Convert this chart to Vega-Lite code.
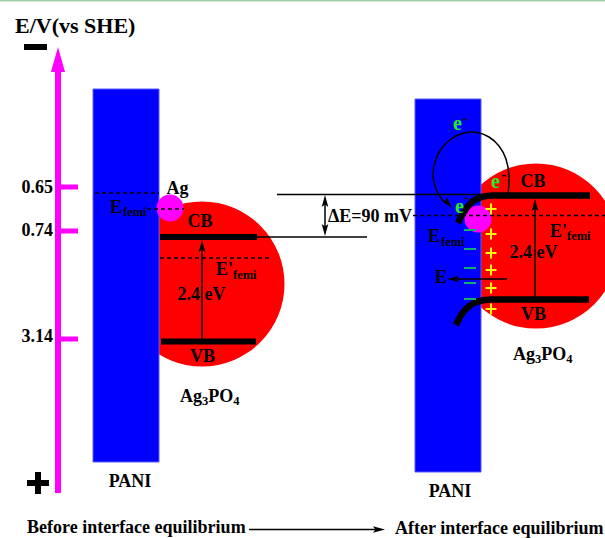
{
  "$schema": "https://vega.github.io/schema/vega-lite/v6.json",
  "width": 605,
  "height": 538,
  "padding": 0,
  "autosize": "none",
  "background": "white",
  "config": {"view": {"stroke": null}},
  "encoding": {
    "x": {"field": "x", "type": "quantitative", "scale": {"domain": [0, 605], "nice": false, "zero": false}, "axis": null},
    "y": {"field": "y", "type": "quantitative", "scale": {"domain": [0, 538], "nice": false, "zero": false, "reverse": true}, "axis": null}
  },
  "layer": [
    {
      "data": {"values": [{"x": 0, "y": 0.75, "x2": 605, "y2": 0.75}]},
      "mark": {"type": "rule", "color": "#9fd0a6", "strokeWidth": 1.5},
      "encoding": {"x2": {"field": "x2"}, "y2": {"field": "y2"}}
    },
    {
      "data": {"values": [{"part": "Ag3PO4 before", "x": 202, "y": 284}, {"part": "Ag3PO4 after", "x": 536, "y": 246}]},
      "mark": {"type": "point", "shape": "circle", "filled": true, "color": "#ff0000", "opacity": 1, "size": 27225, "clip": true},
      "encoding": {}
    },
    {
      "data": {"values": [{"part": "PANI before", "x": 93, "x2": 159, "y": 89, "y2": 462}, {"part": "PANI after", "x": 415, "x2": 481, "y": 99, "y2": 472}]},
      "mark": {"type": "rect", "fill": "#0000ff", "stroke": "#5a5aff", "strokeWidth": 1},
      "encoding": {"x2": {"field": "x2"}, "y2": {"field": "y2"}}
    },
    {
      "data": {"values": [{"part": "Ag before", "x": 170, "y": 208}, {"part": "Ag after", "x": 478, "y": 219}]},
      "mark": {"type": "point", "shape": "circle", "filled": true, "color": "#ff00ff", "opacity": 1, "size": 729},
      "encoding": {}
    },
    {
      "data": {"values": [{"x": 58, "y": 493, "x2": 58, "y2": 70}]},
      "mark": {"type": "rule", "color": "#ff00ff", "strokeWidth": 6},
      "encoding": {"x2": {"field": "x2"}, "y2": {"field": "y2"}}
    },
    {
      "data": {"values": [
        {"level": "0.65", "x": 58, "y": 187, "x2": 78, "y2": 187},
        {"level": "0.74", "x": 58, "y": 231, "x2": 78, "y2": 231},
        {"level": "3.14", "x": 58, "y": 339, "x2": 78, "y2": 339}
      ]},
      "mark": {"type": "rule", "color": "#ff00ff", "strokeWidth": 5},
      "encoding": {"x2": {"field": "x2"}, "y2": {"field": "y2"}}
    },
    {
      "data": {"values": [{"x": 58, "y": 59.5}]},
      "mark": {"type": "point", "shape": "M0,-1L0.56,1L-0.56,1Z", "filled": true, "color": "#ff00ff", "opacity": 1, "size": 625},
      "encoding": {}
    },
    {
      "data": {"values": [
        {"item": "CB before", "x": 160, "y": 237, "x2": 257, "y2": 237},
        {"item": "VB before", "x": 161, "y": 341.5, "x2": 256, "y2": 341.5},
        {"item": "minus", "x": 24, "y": 47, "x2": 47, "y2": 47},
        {"item": "plus h", "x": 27, "y": 483, "x2": 49, "y2": 483},
        {"item": "plus v", "x": 38, "y": 472, "x2": 38, "y2": 494}
      ]},
      "mark": {"type": "rule", "color": "#000000", "strokeWidth": 6},
      "encoding": {"x2": {"field": "x2"}, "y2": {"field": "y2"}}
    },
    {
      "data": {"values": [
        {"band": "CB", "i": 0, "x": 458, "y": 223},
        {"band": "CB", "i": 1, "x": 462, "y": 215},
        {"band": "CB", "i": 2, "x": 467, "y": 207.5},
        {"band": "CB", "i": 3, "x": 473, "y": 201},
        {"band": "CB", "i": 4, "x": 482, "y": 197},
        {"band": "CB", "i": 5, "x": 492, "y": 195.5},
        {"band": "CB", "i": 6, "x": 590, "y": 195.5},
        {"band": "VB", "i": 0, "x": 456, "y": 325},
        {"band": "VB", "i": 1, "x": 460, "y": 317},
        {"band": "VB", "i": 2, "x": 465, "y": 310},
        {"band": "VB", "i": 3, "x": 473, "y": 303.5},
        {"band": "VB", "i": 4, "x": 482, "y": 300.5},
        {"band": "VB", "i": 5, "x": 492, "y": 299.5},
        {"band": "VB", "i": 6, "x": 589, "y": 299.5}
      ]},
      "mark": {"type": "line", "color": "#000000", "strokeWidth": 6.5, "interpolate": "monotone"},
      "encoding": {"detail": {"field": "band"}, "order": {"field": "i", "type": "quantitative"}}
    },
    {
      "data": {"values": [
        {"x": 277, "y": 194.5, "x2": 488, "y2": 194.5},
        {"x": 257, "y": 237, "x2": 367, "y2": 237},
        {"x": 202, "y": 341, "x2": 202, "y2": 249},
        {"x": 535, "y": 299, "x2": 535, "y2": 208},
        {"x": 325, "y": 198, "x2": 325, "y2": 233},
        {"x": 249, "y": 529.5, "x2": 377, "y2": 529.5},
        {"x": 456, "y": 279, "x2": 507, "y2": 279}
      ]},
      "mark": {"type": "rule", "color": "#000000", "strokeWidth": 1.5},
      "encoding": {"x2": {"field": "x2"}, "y2": {"field": "y2"}}
    },
    {
      "data": {"values": [
        {"x": 95, "y": 193, "x2": 159, "y2": 193},
        {"x": 147, "y": 209, "x2": 184, "y2": 209},
        {"x": 160, "y": 258, "x2": 270, "y2": 258},
        {"x": 413, "y": 215.5, "x2": 605, "y2": 215.5}
      ]},
      "mark": {"type": "rule", "color": "#000000", "strokeWidth": 1.5, "strokeDash": [4, 3]},
      "encoding": {"x2": {"field": "x2"}, "y2": {"field": "y2"}}
    },
    {
      "data": {"values": [
        {"i": 0, "x": 508, "y": 194},
        {"i": 1, "x": 509, "y": 176},
        {"i": 2, "x": 506, "y": 159},
        {"i": 3, "x": 499, "y": 146},
        {"i": 4, "x": 489, "y": 137},
        {"i": 5, "x": 477, "y": 132.5},
        {"i": 6, "x": 464, "y": 133},
        {"i": 7, "x": 451, "y": 139},
        {"i": 8, "x": 441, "y": 149},
        {"i": 9, "x": 435, "y": 162},
        {"i": 10, "x": 433, "y": 176},
        {"i": 11, "x": 436, "y": 189},
        {"i": 12, "x": 441, "y": 198},
        {"i": 13, "x": 446, "y": 203}
      ]},
      "mark": {"type": "line", "color": "#000000", "strokeWidth": 1.5, "interpolate": "cardinal"},
      "encoding": {"order": {"field": "i", "type": "quantitative"}}
    },
    {
      "data": {"values": [{"x": 202, "y": 246}, {"x": 535, "y": 205}, {"x": 325, "y": 201}]},
      "mark": {"type": "point", "shape": "M0,-1L0.55,1L0,0.6L-0.55,1Z", "filled": true, "color": "#000000", "opacity": 1, "size": 144},
      "encoding": {}
    },
    {
      "data": {"values": [{"x": 325, "y": 230}]},
      "mark": {"type": "point", "shape": "M0,-1L0.55,1L0,0.6L-0.55,1Z", "filled": true, "color": "#000000", "opacity": 1, "size": 144, "angle": 180},
      "encoding": {}
    },
    {
      "data": {"values": [{"x": 379, "y": 529.5}]},
      "mark": {"type": "point", "shape": "M0,-1L0.55,1L0,0.6L-0.55,1Z", "filled": true, "color": "#000000", "opacity": 1, "size": 144, "angle": 90},
      "encoding": {}
    },
    {
      "data": {"values": [{"x": 453, "y": 279}]},
      "mark": {"type": "point", "shape": "M0,-1L0.55,1L0,0.6L-0.55,1Z", "filled": true, "color": "#000000", "opacity": 1, "size": 144, "angle": 270},
      "encoding": {}
    },
    {
      "data": {"values": [{"x": 448, "y": 203.5}]},
      "mark": {"type": "point", "shape": "M0,-1L0.55,1L0,0.6L-0.55,1Z", "filled": true, "color": "#000000", "opacity": 1, "size": 144, "angle": 140},
      "encoding": {}
    },
    {
      "data": {"values": [{"x": 470, "y": 230}, {"x": 470, "y": 249}, {"x": 470, "y": 268}, {"x": 470, "y": 283}, {"x": 470, "y": 299}]},
      "mark": {"type": "point", "shape": "stroke", "filled": false, "color": "#10b070", "strokeWidth": 2, "opacity": 1, "size": 144},
      "encoding": {}
    },
    {
      "data": {"values": [{"x": 491, "y": 209}, {"x": 491, "y": 234}, {"x": 491, "y": 253}, {"x": 491, "y": 270}, {"x": 491, "y": 288}, {"x": 491, "y": 309}]},
      "mark": {"type": "point", "shape": "M-1,0L1,0M0,-1L0,1", "filled": false, "color": "#ffff00", "strokeWidth": 2, "opacity": 1, "size": 121},
      "encoding": {}
    },
    {
      "data": {"values": [
        {"t": "Ag", "x": 177.5, "y": 194},
        {"t": "CB", "x": 200, "y": 227},
        {"t": "VB", "x": 202.5, "y": 362},
        {"t": "2.4 eV", "x": 201.5, "y": 300},
        {"t": "PANI", "x": 130, "y": 487},
        {"t": "PANI", "x": 450, "y": 497},
        {"t": "CB", "x": 533, "y": 187},
        {"t": "VB", "x": 533.5, "y": 320},
        {"t": "2.4 eV", "x": 533.5, "y": 258},
        {"t": "E", "x": 441, "y": 283}
      ]},
      "mark": {"type": "text", "font": "Liberation Serif", "fontWeight": "bold", "fontSize": 18, "color": "#000000", "align": "center", "baseline": "alphabetic"},
      "encoding": {"text": {"field": "t"}}
    },
    {
      "data": {"values": [
        {"t": "ΔE=90 mV", "x": 328, "y": 222},
        {"t": "Before interface equilibrium", "x": 27, "y": 533},
        {"t": "After interface equilibrium", "x": 395, "y": 534},
        {"t": "E", "x": 110, "y": 213},
        {"t": "E", "x": 428, "y": 242},
        {"t": "E'", "x": 216, "y": 275},
        {"t": "E'", "x": 550, "y": 237},
        {"t": "Ag", "x": 180, "y": 402},
        {"t": "PO", "x": 208.3, "y": 402},
        {"t": "Ag", "x": 513, "y": 360},
        {"t": "PO", "x": 541.3, "y": 360}
      ]},
      "mark": {"type": "text", "font": "Liberation Serif", "fontWeight": "bold", "fontSize": 18, "color": "#000000", "align": "left", "baseline": "alphabetic"},
      "encoding": {"text": {"field": "t"}}
    },
    {
      "data": {"values": [
        {"t": "0.65", "x": 53, "y": 193},
        {"t": "0.74", "x": 53, "y": 236},
        {"t": "3.14", "x": 53, "y": 342}
      ]},
      "mark": {"type": "text", "font": "Liberation Serif", "fontWeight": "bold", "fontSize": 18, "color": "#000000", "align": "right", "baseline": "alphabetic"},
      "encoding": {"text": {"field": "t"}}
    },
    {
      "data": {"values": [
        {"t": "femi", "x": 123, "y": 216},
        {"t": "femi", "x": 441, "y": 246},
        {"t": "femi", "x": 233, "y": 279},
        {"t": "femi", "x": 567, "y": 240},
        {"t": "3", "x": 202, "y": 405},
        {"t": "4", "x": 233.3, "y": 405},
        {"t": "3", "x": 535, "y": 363},
        {"t": "4", "x": 566.3, "y": 363}
      ]},
      "mark": {"type": "text", "font": "Liberation Serif", "fontWeight": "bold", "fontSize": 12.5, "color": "#000000", "align": "left", "baseline": "alphabetic"},
      "encoding": {"text": {"field": "t"}}
    },
    {
      "data": {"values": [{"t": "E/V(vs SHE)", "x": 15, "y": 33}]},
      "mark": {"type": "text", "font": "Liberation Serif", "fontWeight": "bold", "fontSize": 22, "color": "#000000", "align": "left", "baseline": "alphabetic"},
      "encoding": {"text": {"field": "t"}}
    },
    {
      "data": {"values": [{"t": "e", "x": 453, "y": 130}, {"t": "e", "x": 491, "y": 188}, {"t": "e", "x": 455, "y": 213}]},
      "mark": {"type": "text", "font": "Liberation Serif", "fontWeight": "bold", "fontSize": 20, "color": "#22ee22", "align": "left", "baseline": "alphabetic"},
      "encoding": {"text": {"field": "t"}}
    },
    {
      "data": {"values": [{"t": "-", "x": 462, "y": 124}, {"t": "-", "x": 501, "y": 180}, {"t": "-", "x": 464, "y": 203}]},
      "mark": {"type": "text", "font": "Liberation Serif", "fontWeight": "bold", "fontSize": 17, "color": "#111111", "align": "left", "baseline": "alphabetic"},
      "encoding": {"text": {"field": "t"}}
    }
  ]
}
